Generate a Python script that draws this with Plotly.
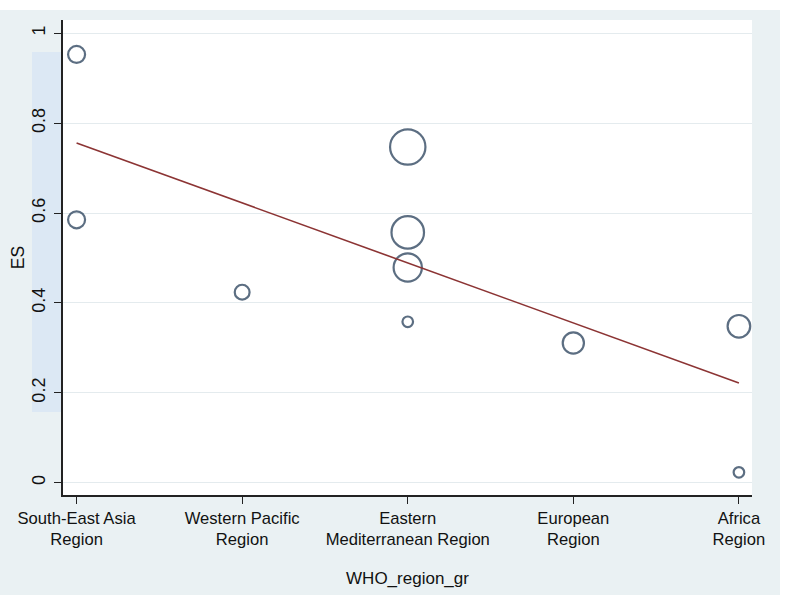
import plotly.graph_objects as go

# ---- data ----
regions = ["South-East Asia<br>Region", "Western Pacific<br>Region",
           "Eastern<br>Mediterranean Region", "European<br>Region", "Africa<br>Region"]
region_idx = [1, 1, 2, 3, 3, 3, 3, 4, 5, 5]
es_values = [0.953, 0.585, 0.424, 0.747, 0.557, 0.479, 0.358, 0.311, 0.348, 0.023]
weights = [14.4, 14.4, 11.0, 62.5, 52.9, 40.0, 5.6, 22.5, 25.6, 5.6]
fit_x = [1, 5]
fit_y = [0.756, 0.222]
y_ticks = [0, 0.2, 0.4, 0.6, 0.8, 1]

fig = go.Figure()
fig.add_trace(go.Scatter(
    x=region_idx, y=es_values, mode="markers",
    marker=dict(size=weights, sizemode="area", sizeref=0.1, symbol="circle-open",
                color="#17304d", line=dict(width=2.2, color="#17304d")),
    showlegend=False, hoverinfo="x+y"))
fig.add_trace(go.Scatter(
    x=fit_x, y=fit_y, mode="lines",
    line=dict(color="#8c3434", width=1.6), showlegend=False))

shapes = [
    dict(type="rect", xref="paper", yref="paper", layer="below",
         x0=-63/689, x1=(780-63)/689, y0=-(595-495)/475, y1=(495-10)/475,
         fillcolor="#eaf1f3", line=dict(width=0)),
    dict(type="rect", xref="paper", yref="paper", layer="below",
         x0=0, x1=1, y0=0, y1=1, fillcolor="white", line=dict(width=0)),
    dict(type="rect", xref="paper", yref="paper", layer="below",
         x0=(32-63)/689, x1=(61-63)/689, y0=(495-412)/475, y1=(495-52)/475,
         fillcolor="#dce8f4", line=dict(width=0)),
]

fig.update_layout(
    width=789, height=605,
    margin=dict(l=63, r=37, t=20, b=110),
    paper_bgcolor="white", plot_bgcolor="rgba(0,0,0,0)",
    font=dict(family="Liberation Sans, Arial, sans-serif", color="#111111"),
    shapes=shapes,
    xaxis=dict(range=[0.918, 5.079], tickvals=[1, 2, 3, 4, 5], ticktext=regions,
               automargin=False,
               showgrid=False, zeroline=False, showline=True, linecolor="#222222",
               linewidth=1.5, ticks="outside", ticklen=7, tickcolor="#222222",
               tickwidth=1.3, tickfont=dict(size=16.6),
               title=dict(text="WHO_region_gr", font=dict(size=17), standoff=24)),
    yaxis=dict(range=[-0.0274, 1.0296], tickvals=y_ticks,
               ticktext=["0", "0.2", "0.4", "0.6", "0.8", "1"],
               automargin=False,
               showgrid=True, gridcolor="#e4ebee", gridwidth=1, zeroline=False,
               showline=True, linecolor="#222222", linewidth=1.5,
               ticks="outside", ticklen=7, tickcolor="#222222", tickwidth=1.3,
               tickangle=-90, tickfont=dict(size=18), ticklabelstandoff=2,
               title=dict(text="ES", font=dict(size=17.5), standoff=0)),
)

fig.write_html("out.html")
